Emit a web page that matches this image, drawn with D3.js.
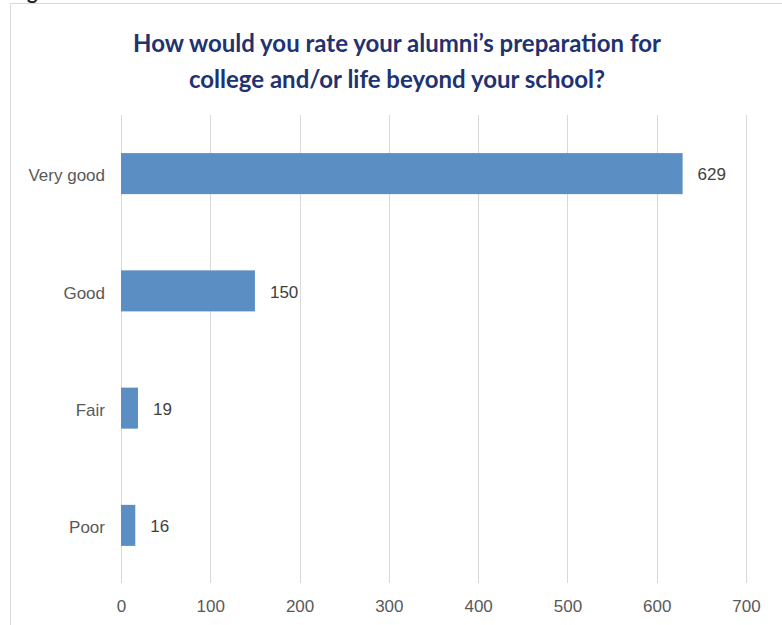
<!DOCTYPE html>
<html>
<head>
<meta charset="utf-8">
<script src="https://cdn.jsdelivr.net/npm/d3@7"></script>
<style>
  body { margin: 0; background: #fff; }
  svg { display: block; }
</style>
</head>
<body>
<div id="chart"></div>
<script>
// chart data
var categories = ["Very good", "Good", "Fair", "Poor"];
var counts = [629, 150, 19, 16];
var xTicks = [0, 100, 200, 300, 400, 500, 600, 700];
var titleLines = ["How would you rate your alumni\u2019s preparation for",
                  "college and/or life beyond your school?"];

var W = 782, H = 625;
var margin = {top: 115, right: 36, bottom: 42, left: 121},
    width = W - margin.left - margin.right,
    height = H - margin.top - margin.bottom;

var root = d3.select("#chart")
  .append("svg")
    .attr("width", W)
    .attr("height", H);

// frame of the surrounding slide
root.append("path")
  .attr("d", "M10.5," + H + "V3.5H" + W)
  .attr("fill", "none")
  .attr("stroke", "#d9d9d9")
  .attr("stroke-width", 1);

// bit of the caption above, cut off by the crop
root.append("text")
  .attr("x", 27)
  .attr("y", -1)
  .style("font-family", "Lato, 'Open Sans', sans-serif")
  .style("font-weight", "700")
  .style("font-size", "20px")
  .attr("fill", "#222")
  .text("g");

// title
root.append("g").selectAll("text")
  .data(titleLines)
  .enter()
  .append("text")
    .attr("x", 397)
    .attr("y", function(d, i) { return 52 + i * 36; })
    .attr("text-anchor", "middle")
    .style("font-family", "Lato, 'Open Sans', sans-serif")
    .style("font-weight", "700")
    .style("font-size", "24px")
    .attr("fill", "#1f3370")
    .text(function(d) { return d; });

var svg = root.append("g")
  .attr("transform", "translate(" + margin.left + "," + margin.top + ")");

var x = d3.scaleLinear()
  .domain([0, 700])
  .range([0, 625]);

var y = d3.scaleBand()
  .domain(categories)
  .range([0, height + 1])
  .paddingInner(0.65)
  .paddingOuter(0.325);

// vertical gridlines
svg.append("g").selectAll("line")
  .data(xTicks)
  .enter()
  .append("line")
    .attr("x1", function(d) { return Math.round(x(d)) + 0.5; })
    .attr("x2", function(d) { return Math.round(x(d)) + 0.5; })
    .attr("y1", 0)
    .attr("y2", height)
    .attr("stroke", "#d9d9d9")
    .attr("stroke-width", 1);

// x axis labels
var xAxis = svg.append("g")
  .attr("transform", "translate(0," + height + ")")
  .call(d3.axisBottom(x).tickValues(xTicks).tickSize(0).tickPadding(17));
xAxis.select(".domain").remove();
xAxis.selectAll("text")
  .style("font-family", "'Liberation Sans', Arial, sans-serif")
  .style("font-size", "17px")
  .attr("fill", "#595959");

// y axis labels
var yAxis = svg.append("g")
  .call(d3.axisLeft(y).tickSize(0).tickPadding(16));
yAxis.select(".domain").remove();
yAxis.selectAll("text")
  .attr("dy", "0.45em")
  .style("font-family", "'Liberation Sans', Arial, sans-serif")
  .style("font-size", "17px")
  .attr("fill", "#595959");

var rows = categories.map(function(c, i) { return {cat: c, value: counts[i]}; });

// bars
svg.selectAll("rect.bar")
  .data(rows)
  .enter()
  .append("rect")
    .attr("class", "bar")
    .attr("x", x(0))
    .attr("y", function(d) { return y(d.cat); })
    .attr("width", function(d) { return x(d.value) - x(0); })
    .attr("height", y.bandwidth())
    .attr("fill", "#5b8fc4");

// value labels
svg.selectAll("text.val")
  .data(rows)
  .enter()
  .append("text")
    .attr("class", "val")
    .attr("x", function(d) { return x(d.value) + 15; })
    .attr("y", function(d) { return y(d.cat) + y.bandwidth() / 2; })
    .attr("dy", "0.4em")
    .style("font-family", "'Liberation Sans', Arial, sans-serif")
    .style("font-size", "17px")
    .attr("fill", "#404040")
    .text(function(d) { return d.value; });
</script>
</body>
</html>
